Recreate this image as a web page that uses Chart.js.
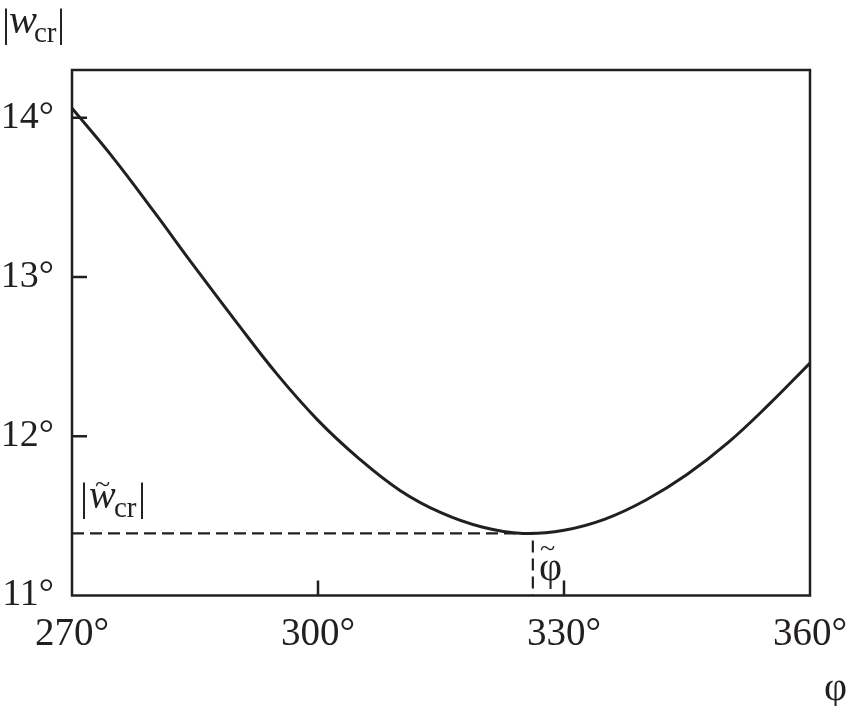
<!DOCTYPE html>
<html>
<head>
<meta charset="utf-8">
<script src="https://cdn.jsdelivr.net/npm/chart.js@4.4.1/dist/chart.umd.min.js"></script>
<style>
  html, body { margin: 0; padding: 0; background: #fff; }
  #wrap { width: 850px; height: 706px; }
</style>
</head>
<body>
<div id="wrap"><canvas id="chart" width="850" height="706"></canvas></div>
<script>
// values
const phiDeg = [270, 275, 280, 285, 290, 295, 300, 305, 310, 315, 320, 325, 330, 335, 340, 345, 350, 355, 360];
const wCr = [14.06, 13.75, 13.41, 13.06, 12.72, 12.39, 12.10, 11.86, 11.66, 11.52, 11.43, 11.39, 11.41, 11.48, 11.60, 11.76, 11.96, 12.20, 12.46];
const phiMin = 326.2;
const wMin = 11.39;
const xTicks = [270, 300, 330, 360];
const yTicks = [11, 12, 13, 14];

const ink = '#231f20';
const serif = '"Liberation Serif", "DejaVu Serif", serif';

const curve = phiDeg.map((p, i) => ({ x: p, y: wCr[i] }));
const minGuide = [{ x: 270, y: wMin }, { x: phiMin, y: wMin }, { x: phiMin, y: 11 }];

// frame, inward ticks and the symbol labels
const decor = {
  id: 'decor',
  afterDraw(chart) {
    const { ctx, chartArea: a, scales } = chart;
    const xs = scales.x, ys = scales.y;
    ctx.save();
    ctx.strokeStyle = ink;
    ctx.lineWidth = 2.5;
    ctx.strokeRect(a.left, a.top, a.right - a.left, a.bottom - a.top);
    ctx.beginPath();
    yTicks.slice(1).forEach(v => {
      const y = ys.getPixelForValue(v);
      ctx.moveTo(a.left, y); ctx.lineTo(a.left + 15, y);
    });
    xTicks.slice(1, -1).forEach(v => {
      const x = xs.getPixelForValue(v);
      ctx.moveTo(x, a.bottom); ctx.lineTo(x, a.bottom - 15);
    });
    ctx.stroke();

    ctx.fillStyle = ink;
    ctx.textBaseline = 'alphabetic';
    ctx.textAlign = 'left';

    // |w_cr| at top left
    ctx.font = '40px ' + serif;
    ctx.fillText('|', 2, 36);
    ctx.font = 'italic 42px ' + serif;
    ctx.fillText('w', 9, 33);
    ctx.font = '29px ' + serif;
    ctx.fillText('cr', 34, 42);
    ctx.font = '40px ' + serif;
    ctx.fillText('|', 57, 36);

    // |w~_cr| near the minimum
    ctx.font = '40px ' + serif;
    ctx.fillText('|', 80, 510);
    ctx.font = 'italic 40px ' + serif;
    ctx.fillText('w', 89, 508);
    ctx.font = '28px ' + serif;
    ctx.fillText('~', 95, 493);
    ctx.font = '29px ' + serif;
    ctx.fillText('cr', 114, 517);
    ctx.font = '40px ' + serif;
    ctx.fillText('|', 138, 510);

    // phi~ at the minimum
    ctx.font = '40px ' + serif;
    ctx.fillText('\u03c6', 539, 580);
    ctx.font = '28px ' + serif;
    ctx.fillText('~', 540, 557);

    // axis symbol
    ctx.font = '40px ' + serif;
    ctx.fillText('\u03c6', 824, 700);
    ctx.restore();
  }
};

new Chart(document.getElementById('chart'), {
  type: 'line',
  data: {
    datasets: [
      {
        data: curve,
        borderColor: ink,
        borderWidth: 3,
        pointRadius: 0,
        tension: 0.4,
        fill: false
      },
      {
        data: minGuide,
        borderColor: ink,
        borderWidth: 2.2,
        borderDash: [12, 6],
        pointRadius: 0,
        tension: 0,
        fill: false
      }
    ]
  },
  options: {
    responsive: false,
    animation: false,
    events: [],
    layout: { padding: { left: 0, right: 40, top: 70, bottom: 0 } },
    plugins: { legend: { display: false }, tooltip: { enabled: false } },
    scales: {
      x: {
        type: 'linear',
        min: 270,
        max: 360,
        afterBuildTicks: s => { s.ticks = xTicks.map(v => ({ value: v })); },
        afterFit: s => { s.height = 110.5; s.paddingRight = 30; s.paddingLeft = 30; },
        grid: { display: false },
        border: { display: false },
        ticks: {
          color: ink,
          padding: 8,
          maxRotation: 0,
          font: { family: serif, size: 39 },
          callback: v => v + '\u00b0'
        }
      },
      y: {
        min: 11,
        max: 14.3,
        afterBuildTicks: s => { s.ticks = yTicks.map(v => ({ value: v })); },
        afterFit: s => { s.width = 72; },
        grid: { display: false },
        border: { display: false },
        ticks: {
          color: ink,
          padding: 10,
          font: { family: serif, size: 38 },
          callback: v => v + '\u00b0'
        }
      }
    }
  },
  plugins: [decor]
});
</script>
</body>
</html>
